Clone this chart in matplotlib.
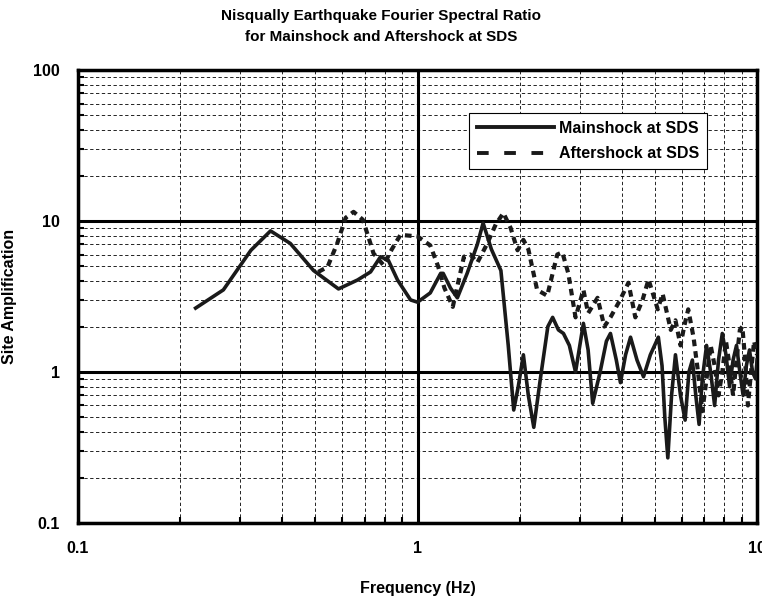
import matplotlib
matplotlib.use("Agg")
import matplotlib.pyplot as plt
from matplotlib.ticker import FixedLocator, NullFormatter

# === DATOS ===
f_main = [0.222, 0.268, 0.323, 0.369, 0.422, 0.494, 0.585, 0.666, 0.727, 0.778,
          0.82, 0.873, 0.954, 1.0, 1.09, 1.17, 1.19, 1.25, 1.31, 1.40, 1.5, 1.56,
          1.65, 1.76, 1.85, 1.92, 1.98, 2.05, 2.12, 2.2, 2.3, 2.42, 2.5, 2.6,
          2.69, 2.8, 2.92, 3.08, 3.18, 3.28, 3.45, 3.6, 3.7, 3.85, 3.96, 4.1,
          4.24, 4.43, 4.63, 4.85, 5.12, 5.25, 5.35, 5.46, 5.6, 5.75, 5.95, 6.14,
          6.3, 6.45, 6.6, 6.75, 6.9, 7.1, 7.3, 7.5, 7.7, 7.9, 8.1, 8.3, 8.5,
          8.7, 8.9, 9.1, 9.3, 9.5, 9.7, 9.9, 10.0]
A_main = [2.65, 3.5, 6.4, 8.6, 7.1, 4.7, 3.55, 4.07, 4.6, 5.8,
          5.5, 4.07, 3.0, 2.9, 3.34, 4.5, 4.5, 3.6, 3.1, 4.5, 7.0, 9.7,
          6.5, 4.7, 1.5, 0.56, 0.8, 1.3, 0.7, 0.43, 0.9, 2.0, 2.3, 1.9,
          1.8, 1.5, 1.0, 2.1, 1.4, 0.62, 1.0, 1.6, 1.8, 1.2, 0.85, 1.3,
          1.7, 1.2, 0.93, 1.3, 1.7, 1.1, 0.5, 0.27, 0.7, 1.3, 0.7, 0.48,
          1.0, 1.2, 0.7, 0.45, 0.9, 1.5, 1.0, 0.6, 1.2, 1.8, 1.3, 0.8, 1.2,
          1.5, 1.0, 0.7, 1.1, 1.4, 1.0, 0.9, 1.2]

f_after = [0.51, 0.543, 0.58, 0.614, 0.648, 0.69, 0.717, 0.742, 0.794, 0.84,
           0.891, 1.0, 1.09, 1.15, 1.2, 1.27, 1.32, 1.37, 1.43, 1.5, 1.6, 1.7,
           1.79, 1.88, 1.97, 2.05, 2.12, 2.25, 2.41, 2.5, 2.58, 2.67, 2.78,
           2.92, 3.08, 3.18, 3.39, 3.55, 3.7, 3.95, 4.18, 4.38, 4.6, 4.79, 5.1,
           5.27, 5.57, 5.75, 5.95, 6.1, 6.27, 6.5, 6.7, 6.9, 7.1, 7.3, 7.5, 7.7,
           7.9, 8.1, 8.3, 8.5, 8.7, 8.9, 9.05, 9.2, 9.4, 9.6, 9.8, 10.0]
A_after = [4.6, 4.96, 7.1, 10.5, 11.5, 10.2, 7.8, 6.1, 5.1, 6.5,
           8.1, 7.9, 6.9, 5.0, 3.6, 2.7, 4.0, 5.8, 6.0, 5.3, 7.0, 9.5,
           11.3, 9.0, 6.4, 7.5, 6.5, 3.5, 3.2, 4.5, 6.0, 6.2, 4.5,
           2.3, 3.5, 2.45, 3.1, 2.0, 2.3, 3.0, 3.9, 2.3, 3.0, 4.1, 2.6,
           3.3, 1.9, 2.2, 1.5, 2.0, 2.6, 1.7, 1.0, 0.55, 0.9, 1.5, 1.1, 0.7,
           1.0, 1.6, 1.1, 0.7, 1.2, 1.9, 2.0, 1.3, 0.6, 1.0, 1.6, 1.3]

x_ticks = [0.1, 1, 10]
x_labels = ["0.1", "1", "10"]
y_ticks = [0.1, 1, 10, 100]
y_labels = ["0.1", "1", "10", "100"]

# === GRAFICA ===
plt.rcParams["font.family"] = ["Liberation Sans", "DejaVu Sans"]
plt.rcParams["font.weight"] = "bold"

fig = plt.figure(figsize=(7.62, 6.01), dpi=100)
ax = fig.add_axes([0.1024, 0.1298, 0.8911, 0.7537])

ax.set_xscale("log")
ax.set_yscale("log")
ax.set_xlim(0.1, 10)
ax.set_ylim(0.1, 100)

minors = [k * 10.0**e for e in range(-2, 3) for k in range(2, 10)]
ax.xaxis.set_minor_locator(FixedLocator(minors))
ax.yaxis.set_minor_locator(FixedLocator(minors))
ax.xaxis.set_minor_formatter(NullFormatter())
ax.yaxis.set_minor_formatter(NullFormatter())
ax.set_xticks(x_ticks, x_labels)
ax.set_yticks(y_ticks, y_labels)

ax.grid(which="minor", color="black", linestyle=(0, (4, 3)), linewidth=0.6)
ax.grid(which="major", color="black", linestyle="solid", linewidth=2.2)

ax.tick_params(which="both", direction="in", labelsize=11.5, width=1.5)
ax.tick_params(which="major", length=0, pad=13)
ax.tick_params(which="minor", length=4)
for lab in ax.get_xticklabels() + ax.get_yticklabels():
    lab.set_fontweight("bold")

for s in ax.spines.values():
    s.set_linewidth(2.5)

ax.plot(f_main, A_main, color="#1a1a1a", linewidth=2.6, solid_joinstyle="round",
        label="Mainshock at SDS", zorder=4)
ax.plot(f_after, A_after, color="#1a1a1a", linewidth=3.0, linestyle=(0, (1.6, 1.2)),
        label="Aftershock at SDS", zorder=3)

leg = ax.legend(loc="upper right", bbox_to_anchor=(0.926, 0.905), fancybox=False,
                framealpha=1, edgecolor="black", handlelength=4.8,
                prop={"size": 11.5, "weight": "bold"}, borderpad=0.5, labelspacing=0.65,
                handletextpad=0.3, borderaxespad=0)
leg.get_frame().set_linewidth(0.8)
for h in leg.get_lines():
    h.set_linewidth(2.8)
leg.get_lines()[1].set_linestyle((0, (3, 4)))

fig.text(0.5, 0.985, "Nisqually Earthquake Fourier Spectral Ratio\nfor Mainshock and Aftershock at SDS",
         ha="center", va="top", fontsize=11, fontweight="bold", linespacing=1.6)
ax.set_xlabel("Frequency (Hz)", fontsize=11.5, fontweight="bold")
ax.set_ylabel("Site Amplification", fontsize=11.5, fontweight="bold")
ax.xaxis.set_label_coords(0.5, -0.127)
ax.yaxis.set_label_coords(-0.09, 0.5)

fig.savefig("out.png", dpi=100)
